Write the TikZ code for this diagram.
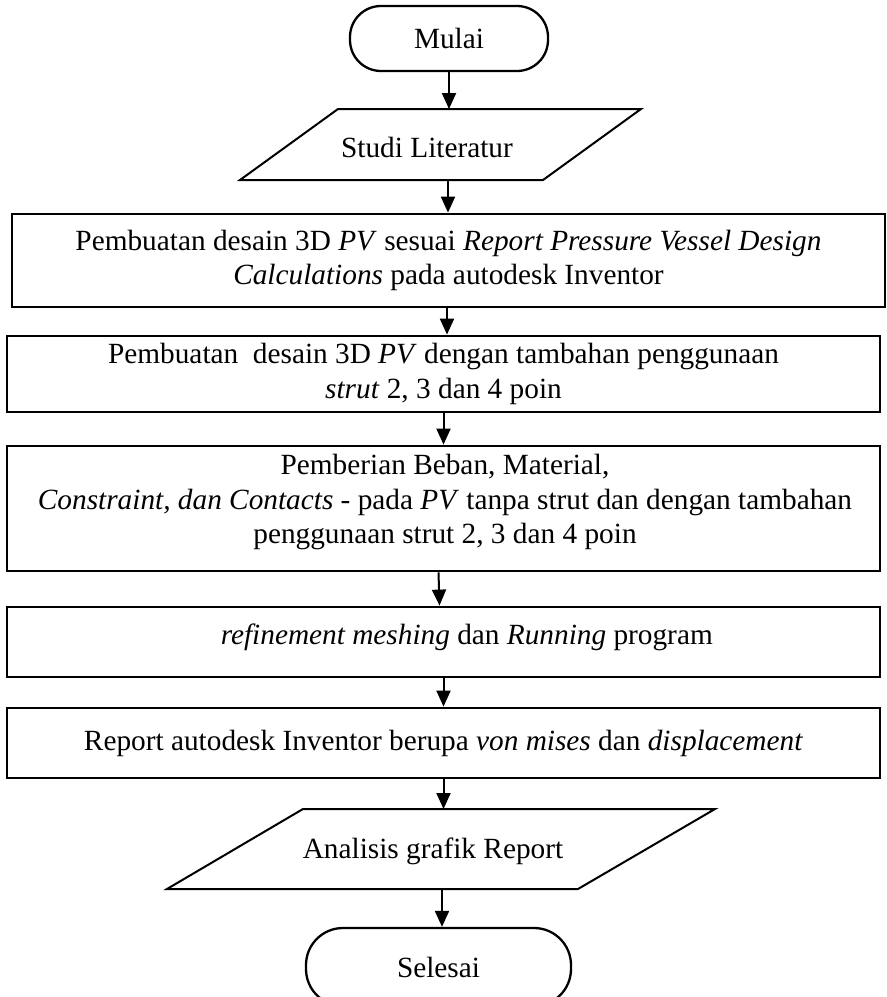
\documentclass[tikz,border=0pt]{standalone}
\usepackage{fontspec}
\setmainfont{Liberation Serif}
\usetikzlibrary{arrows.meta,calc}
\begin{document}
\begin{tikzpicture}[x=1pt,y=-1pt,
  every node/.style={font=\fontsize{29.3}{34.5}\selectfont},
  stepbox/.style={draw, line width=2.8pt, rectangle, minimum width=873pt, inner sep=0pt, align=center},
  terminal/.style={draw, line width=2.3pt, rectangle, inner sep=0pt},
  iobox/.style={draw, line width=2pt, line join=miter},
  flow/.style={line width=2pt, -{Triangle[width=14pt,length=16pt]}},
  txt/.style={inner sep=0pt, align=center}
]
\useasboundingbox (0,0) rectangle (887,997);
\clip (0,0) rectangle (887,997);

% start terminal
\node[terminal, rounded corners=31pt, minimum width=198pt, minimum height=65pt] (mulai) at (449,38.5) {Mulai};

% input: literature study
\coordinate (sl-nw) at (338,109);
\coordinate (sl-ne) at (641,109);
\coordinate (sl-se) at (543,180);
\coordinate (sl-sw) at (240,180);
\coordinate (sl-out) at (448,180);
\draw[iobox] (sl-nw) -- (sl-ne) -- (sl-se) -- (sl-sw) -- cycle;
\node[txt] (studi) at (427,147) {Studi Literatur};

% process steps
\node[stepbox, minimum width=873pt, minimum height=93pt] (box1) at (448.5,260.5)
  {Pembuatan desain 3D \textit{PV} sesuai \textit{Report Pressure Vessel Design}\\
   \textit{Calculations} pada autodesk Inventor};

\node[stepbox, minimum height=76pt] (box2) at (443.5,374)
  {Pembuatan\ \ desain 3D \textit{PV} dengan tambahan penggunaan\\
   \textit{strut} 2, 3 dan 4 poin};

\node[stepbox, minimum height=125pt] (box3) at (443.5,508.5) {};
\node[txt] (box3-text) at (445,502)
  {Pemberian Beban, Material,\\
   \textit{Constraint, dan Contacts} - pada \textit{PV} tanpa strut dan dengan tambahan\\
   penggunaan strut 2, 3 dan 4 poin};

\node[stepbox, minimum height=70pt] (box4) at (443.5,642) {};
\node[txt, anchor=east] (box4-text) at (713,637)
  {\textit{refinement meshing} dan \textit{Running} program};

\node[stepbox, minimum height=70pt] (box5) at (443.5,743)
  {Report autodesk Inventor berupa \textit{von mises} dan \textit{displacement}};

% input: report analysis
\coordinate (ag-nw) at (303,809);
\coordinate (ag-ne) at (715,809);
\coordinate (ag-se) at (578,889);
\coordinate (ag-sw) at (167,889);
\coordinate (ag-out) at (442,889);
\draw[iobox] (ag-nw) -- (ag-ne) -- (ag-se) -- (ag-sw) -- cycle;
\node[txt] (analisis) at (433,851) {Analisis grafik Report};

% end terminal
\node[terminal, rounded corners=37pt, minimum width=265pt, minimum height=78pt] (selesai) at (438.5,967) {Selesai};

% connectors
\draw[flow] (mulai.south) -- (mulai.south |- sl-nw);
\draw[flow] (sl-out) -- (sl-out |- box1.north);
\draw[flow] ([xshift=-1.5pt]box1.south) -- ([xshift=-1.5pt]box1.south |- box2.north);
\draw[flow] (box2.south) -- (box2.south |- box3.north);
\draw[flow] ([xshift=-5pt]box3.south) -- ([xshift=-4pt]box3.south |- box4.north);
\draw[flow] (box4.south) -- (box4.south |- box5.north);
\draw[flow] (box5.south) -- (box5.south |- ag-nw);
\draw[flow] (ag-out) -- (ag-out |- selesai.north);
\end{tikzpicture}
\end{document}
